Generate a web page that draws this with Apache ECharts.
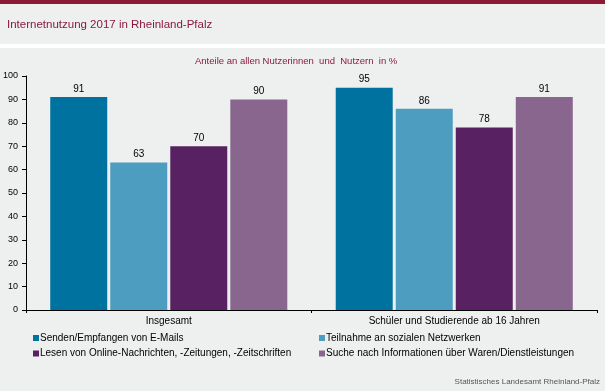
<!DOCTYPE html>
<html><head><meta charset="utf-8">
<script src="https://cdn.jsdelivr.net/npm/echarts@6/dist/echarts.min.js"></script>
<style>html,body{margin:0;padding:0;background:#eef0ef}#c{width:605px;height:391px}</style>
</head><body><div id="c"></div>
<script>
const categories = ['Insgesamt', 'Schüler und Studierende ab 16 Jahren'];
const seriesNames = [
  'Senden/Empfangen von E-Mails',
  'Teilnahme an sozialen Netzwerken',
  'Lesen von Online-Nachrichten, -Zeitungen, -Zeitschriften',
  'Suche nach Informationen über Waren/Dienstleistungen'
];
const emails = [91, 95];
const social = [63, 86];
const news = [70, 78];
const search = [90, 91];
const yTicks = [0, 10, 20, 30, 40, 50, 60, 70, 80, 90, 100];
const colors = ['#00729f', '#4c9dbf', '#582262', '#89668e'];
const values = [emails, social, news, search];

const chart = echarts.init(document.getElementById('c'), null, {renderer: 'canvas'});
const font = 'Liberation Sans, Arial, sans-serif';
const legendText = {fontFamily: font, fontSize: 10, color: '#000', padding: [0, 0, 0, -4], lineHeight: 10};
chart.setOption({
  backgroundColor: '#eef0ef',
  animation: false,
  graphic: [
    {type: 'rect', left: 0, top: 0, shape: {width: 605, height: 4}, style: {fill: '#8b1a35'}},
    {type: 'rect', left: 0, top: 44, shape: {width: 605, height: 4}, style: {fill: '#ffffff'}}
  ],
  title: [
    {text: 'Internetnutzung 2017 in Rheinland-Pfalz', left: 2, top: 14,
     textStyle: {fontFamily: font, fontSize: 11.5, fontWeight: 'normal', color: '#8b1a3f'}},
    {text: 'Anteile an allen Nutzerinnen  und  Nutzern  in %', left: 190, top: 51,
     textStyle: {fontFamily: font, fontSize: 9.5, fontWeight: 'normal', color: '#8b1a3f'}},
    {text: 'Statistisches Landesamt Rheinland-Pfalz', right: 0, top: 373,
     textStyle: {fontFamily: font, fontSize: 8, fontWeight: 'normal', color: '#555555'}}
  ],
  legend: [
    {data: [seriesNames[0], seriesNames[2]], orient: 'vertical', left: 28, top: 328,
     itemWidth: 6, itemHeight: 6, itemGap: 5.5, icon: 'rect', textStyle: legendText},
    {data: [seriesNames[1], seriesNames[3]], orient: 'vertical', left: 314, top: 328,
     itemWidth: 6, itemHeight: 6, itemGap: 5.5, icon: 'rect', textStyle: legendText}
  ],
  grid: {left: 25, right: 8, top: 76, bottom: 81},
  xAxis: {
    type: 'category', data: categories,
    axisLine: {lineStyle: {color: '#000', width: 1}},
    axisTick: {show: true, length: 3, lineStyle: {color: '#000'}},
    axisLabel: {fontFamily: font, fontSize: 10, color: '#000', margin: 6}
  },
  yAxis: {
    type: 'value', min: 0, max: 100, interval: 10,
    axisLine: {show: true, lineStyle: {color: '#000', width: 1}},
    axisTick: {show: true, length: 4, lineStyle: {color: '#000'}},
    splitLine: {show: false},
    axisLabel: {fontFamily: font, fontSize: 9, color: '#000', margin: 8,
      formatter: v => yTicks.includes(v) ? String(v) : ''}
  },
  series: seriesNames.map((n, i) => ({
    name: n, type: 'bar', data: values[i], barWidth: 57, barGap: '5.3%',
    itemStyle: {color: colors[i]},
    label: {show: true, position: 'top', distance: 3, fontFamily: font, fontSize: 10, color: '#000'}
  }))
});
</script></body></html>
